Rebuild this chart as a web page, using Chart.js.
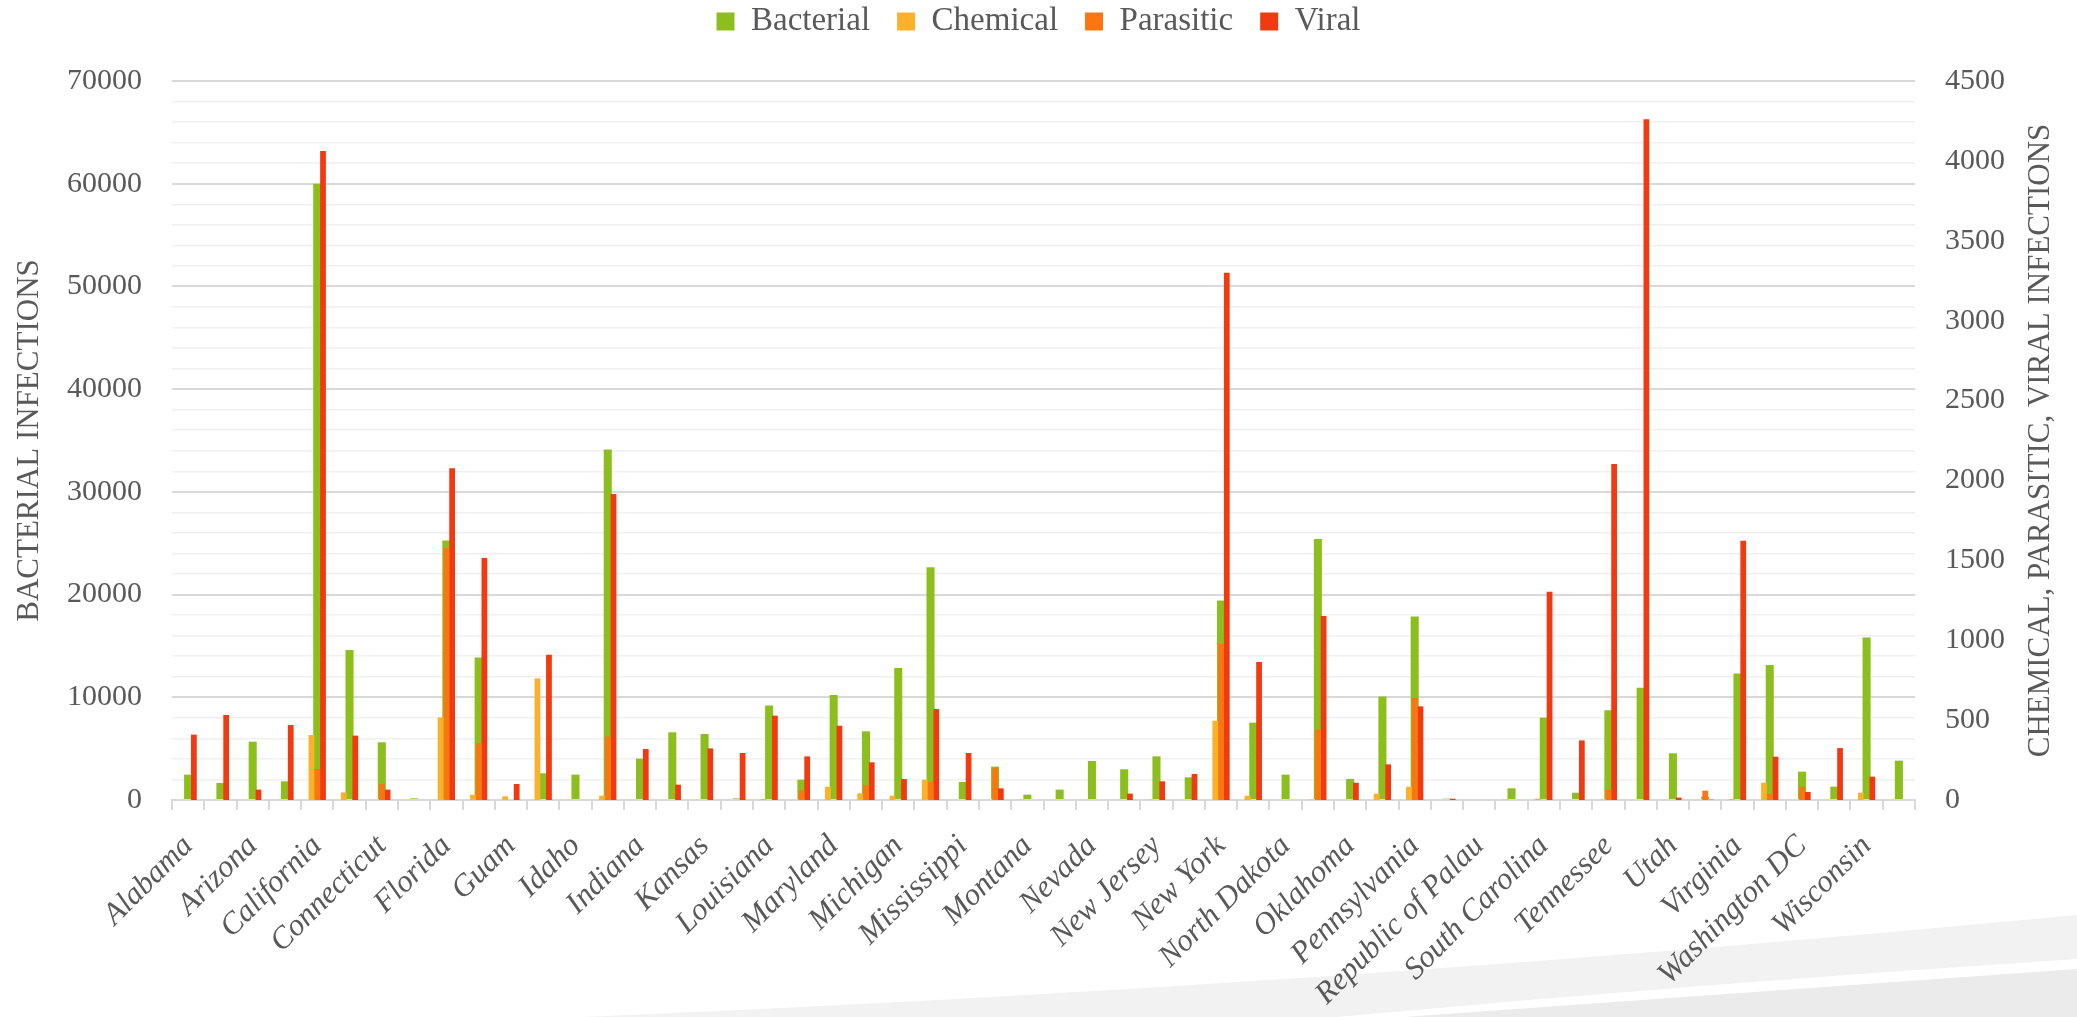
<!DOCTYPE html>
<html>
<head>
<meta charset="utf-8">
<title>Infections by State</title>
<script src="https://cdn.jsdelivr.net/npm/chart.js@4/dist/chart.umd.min.js"></script>
<style>
  html, body { margin: 0; padding: 0; background: #ffffff; }
  canvas { display: block; }
</style>
</head>
<body>
<canvas id="chart" width="2077" height="1017"></canvas>
<script>
// Categories (every other one is labelled on the axis)
const categories = [
  'Alabama', 'Alaska', 'Arizona', 'Arkansas', 'California', 'Colorado', 'Connecticut', 'Delaware',
  'Florida', 'Georgia', 'Guam', 'Hawaii', 'Idaho', 'Illinois', 'Indiana', 'Iowa', 'Kansas',
  'Kentucky', 'Louisiana', 'Maine', 'Maryland', 'Massachusetts', 'Michigan', 'Minnesota',
  'Mississippi', 'Missouri', 'Montana', 'Nebraska', 'Nevada', 'New Hampshire', 'New Jersey',
  'New Mexico', 'New York', 'North Carolina', 'North Dakota', 'Ohio', 'Oklahoma', 'Oregon',
  'Pennsylvania', 'Puerto Rico', 'Republic of Palau', 'Rhode Island', 'South Carolina',
  'South Dakota', 'Tennessee', 'Texas', 'Utah', 'Vermont', 'Virginia', 'Washington',
  'Washington DC', 'West Virginia', 'Wisconsin', 'Wyoming'
];

const seriesNames = ['Bacterial', 'Chemical', 'Parasitic', 'Viral'];

// Bacterial infections (left axis)
const bacterial = [
  2470, 1660, 5680, 1820, 60000, 14610, 5620, 160, 25260, 13870,
  0, 2600, 2470, 34130, 4030, 6590, 6430, 160, 9190, 1980,
  10230, 6690, 12860, 22660, 1750, 3250, 520, 1010, 3800, 2990,
  4250, 2210, 19420, 7530, 2470, 25420, 2050, 10070, 17860, 130,
  0, 1140, 8020, 710, 8730, 10940, 4550, 330, 12310, 13150,
  2760, 1300, 15810, 3830
];

// Chemical, parasitic and viral infections (right axis)
const chemical = [
  0, 0, 0, 0, 407, 48, 0, 0, 517, 33,
  23, 761, 0, 27, 0, 0, 0, 0, 6, 0,
  83, 42, 27, 127, 0, 0, 2, 0, 0, 0,
  2, 0, 496, 27, 0, 2, 0, 40, 83, 0,
  0, 2, 8, 0, 2, 0, 0, 0, 6, 108,
  0, 0, 46, 0
];

const parasitic = [
  0, 0, 0, 0, 194, 0, 100, 0, 1577, 355,
  0, 0, 0, 396, 0, 0, 0, 0, 0, 60,
  0, 92, 0, 113, 0, 198, 0, 0, 0, 0,
  0, 0, 976, 0, 0, 440, 0, 0, 640, 0,
  0, 0, 0, 0, 63, 0, 0, 58, 0, 38,
  83, 0, 0, 0
];

const viral = [
  409, 532, 65, 469, 4062, 403, 65, 0, 2076, 1515,
  100, 909, 0, 1915, 319, 96, 323, 294, 528, 273,
  465, 236, 131, 569, 294, 73, 0, 0, 0, 40,
  117, 163, 3300, 864, 0, 1151, 108, 223, 586, 8,
  0, 0, 1304, 373, 2103, 4261, 15, 2, 1623, 271,
  50, 325, 146, 0
];

const leftAxisTitle = 'BACTERIAL INFECTIONS';
const rightAxisTitle = 'CHEMICAL, PARASITIC, VIRAL INFECTIONS';

// Styling
const seriesColors = ['#8cbf1e', '#fcb12b', '#fc7511', '#f23a12'];
const textColor = '#595959';
const serif = "'Liberation Serif', 'Times New Roman', serif";

Chart.defaults.font.family = serif;
Chart.defaults.color = textColor;

// Soft grey swoosh decoration in the lower right corner
const swoosh = {
  id: 'swoosh',
  beforeDraw(chart) {
    const { ctx, width: W, height: H } = chart;
    ctx.save();
    ctx.fillStyle = '#f2f2f2';
    ctx.beginPath();
    ctx.moveTo(583, H);
    ctx.quadraticCurveTo(1330, 986, W, 915);
    ctx.lineTo(W, H);
    ctx.closePath();
    ctx.fill();
    ctx.fillStyle = '#ffffff';
    ctx.beginPath();
    ctx.moveTo(1337, H);
    ctx.quadraticCurveTo(1707, 983, W, 959);
    ctx.lineTo(W, H);
    ctx.closePath();
    ctx.fill();
    ctx.fillStyle = '#ebebeb';
    ctx.beginPath();
    ctx.moveTo(1404, H);
    ctx.lineTo(W, 969);
    ctx.lineTo(W, H);
    ctx.closePath();
    ctx.fill();
    ctx.restore();
  }
};

// Secondary-axis title, reading bottom to top like the primary one
const rightTitle = {
  id: 'rightTitle',
  afterDraw(chart) {
    const { ctx, chartArea } = chart;
    const s = chart.scales.y2;
    ctx.save();
    ctx.font = '31px ' + serif;
    ctx.fillStyle = textColor;
    ctx.textAlign = 'center';
    ctx.textBaseline = 'middle';
    ctx.translate(s.right - 36, (chartArea.top + chartArea.bottom) / 2);
    ctx.rotate(-Math.PI / 2);
    ctx.fillText(rightAxisTitle, 0, 0);
    ctx.restore();
  }
};

const secondary = (i, data) => ({
  label: seriesNames[i],
  data,
  backgroundColor: seriesColors[i],
  borderWidth: 0,
  yAxisID: 'y2',
  order: 0,
  categoryPercentage: 0.536,
  barPercentage: 1
});

new Chart(document.getElementById('chart'), {
  type: 'bar',
  data: {
    labels: categories,
    datasets: [
      {
        // primary series sits centred behind the secondary cluster
        label: seriesNames[0],
        data: bacterial,
        backgroundColor: seriesColors[0],
        borderWidth: 0,
        yAxisID: 'y',
        order: 1,
        grouped: false,
        categoryPercentage: 1,
        barPercentage: 0.25
      },
      secondary(1, chemical),
      secondary(2, parasitic),
      secondary(3, viral)
    ]
  },
  options: {
    responsive: false,
    devicePixelRatio: 1,
    animation: false,
    layout: { padding: { top: -22, left: 0, right: 0, bottom: 0 } },
    plugins: {
      legend: {
        position: 'top',
        labels: {
          boxWidth: 18,
          boxHeight: 18,
          padding: 27,
          color: textColor,
          font: { size: 33 },
          sort: (a, b) => a.datasetIndex - b.datasetIndex
        }
      },
      // spacer between legend and plot
      title: {
        display: true,
        text: '',
        position: 'top',
        weight: 500,
        padding: 0,
        font: { size: 33, lineHeight: 1 }
      },
      tooltip: { enabled: false }
    },
    scales: {
      x: {
        type: 'category',
        position: 'bottom',
        offset: true,
        grid: {
          offset: true,
          drawOnChartArea: false,
          drawTicks: true,
          tickLength: 10,
          color: '#d9d9d9',
          lineWidth: 2
        },
        border: { display: true, color: '#d9d9d9', width: 2 },
        ticks: {
          autoSkip: false,
          minRotation: 45,
          maxRotation: 45,
          padding: 18,
          color: textColor,
          font: { size: 31, style: 'italic' },
          callback: (v, i) => (i % 2 === 0 ? categories[i] : '')
        },
        afterFit(scale) { scale.height = 217; }
      },
      y: {
        position: 'left',
        min: 0,
        max: 70000,
        border: { display: false },
        grid: {
          drawTicks: false,
          color: (c) => (c.tick && c.tick.value % 10000 === 0 ? '#d9d9d9' : '#f0f0f0'),
          lineWidth: (c) => (c.tick && c.tick.value % 10000 === 0 ? 2 : 1.5)
        },
        ticks: {
          stepSize: 2000,
          autoSkip: false,
          padding: 30,
          color: textColor,
          font: { size: 30 },
          callback: (v) => (v % 10000 === 0 ? String(v) : '')
        },
        title: {
          display: true,
          text: leftAxisTitle,
          color: textColor,
          font: { size: 31 },
          padding: { top: 11, bottom: 0 }
        },
        afterFit(scale) { scale.width = 172; }
      },
      y2: {
        position: 'right',
        min: 0,
        max: 4500,
        border: { display: false },
        grid: { display: false, drawTicks: false },
        ticks: {
          stepSize: 500,
          padding: 30,
          color: textColor,
          font: { size: 30 },
          callback: (v) => String(v)
        },
        afterFit(scale) { scale.width = 162; }
      }
    }
  },
  plugins: [swoosh, rightTitle]
});
</script>
</body>
</html>
